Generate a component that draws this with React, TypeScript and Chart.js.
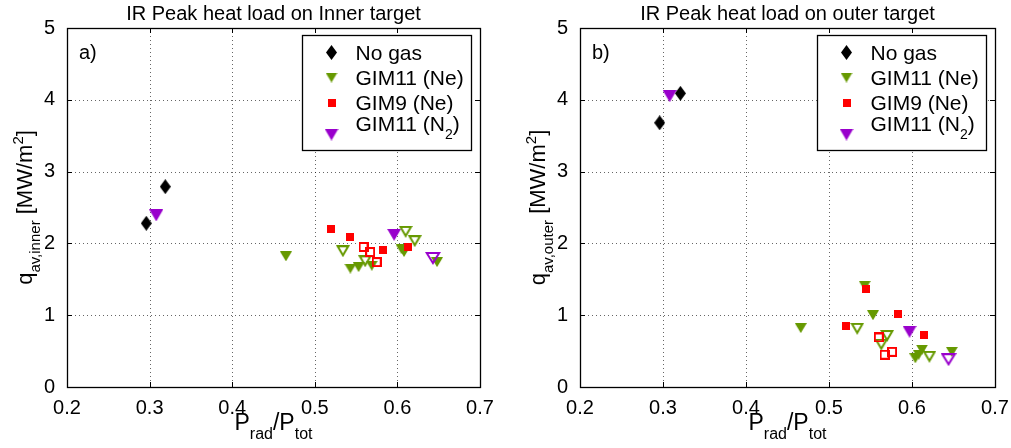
import React, { useEffect, useRef } from 'react';
import { Chart, registerables } from 'chart.js';

Chart.register(...registerables);

const FONT = '"Liberation Sans", Arial, Helvetica, sans-serif';

// Tick values
const xTicks = [0.2, 0.3, 0.4, 0.5, 0.6, 0.7];
const yTicks = [0, 1, 2, 3, 4, 5];

// Series labels
const seriesNames = ['No gas', 'GIM11 (Ne)', 'GIM9 (Ne)', 'GIM11 (N2)'];

// ---- Panel a) inner target ----
const innerNoGasX = [0.296, 0.319];
const innerNoGasY = [2.28, 2.79];
const innerGim11NeFilledX = [0.465, 0.543, 0.553, 0.569, 0.605, 0.608, 0.648];
const innerGim11NeFilledY = [1.82, 1.65, 1.67, 1.69, 1.92, 1.88, 1.74];
const innerGim11NeOpenX = [0.534, 0.561, 0.61, 0.621];
const innerGim11NeOpenY = [1.89, 1.75, 2.16, 2.03];
const innerGim9NeFilledX = [0.52, 0.543, 0.582, 0.613];
const innerGim9NeFilledY = [2.2, 2.09, 1.91, 1.95];
const innerGim9NeOpenX = [0.559, 0.567, 0.575];
const innerGim9NeOpenY = [1.95, 1.88, 1.74];
const innerGim11N2FilledX = [0.308, 0.596];
const innerGim11N2FilledY = [2.39, 2.12];
const innerGim11N2OpenX = [0.643];
const innerGim11N2OpenY = [1.79];

// ---- Panel b) outer target ----
const outerNoGasX = [0.296, 0.321];
const outerNoGasY = [3.68, 4.09];
const outerGim11NeFilledX = [0.466, 0.543, 0.553, 0.604, 0.608, 0.612, 0.648];
const outerGim11NeFilledY = [0.82, 1.41, 1.0, 0.4, 0.45, 0.52, 0.49];
const outerGim11NeOpenX = [0.534, 0.57, 0.563, 0.621];
const outerGim11NeOpenY = [0.81, 0.71, 0.59, 0.42];
const outerGim9NeFilledX = [0.52, 0.544, 0.583, 0.614];
const outerGim9NeFilledY = [0.85, 1.37, 1.02, 0.73];
const outerGim9NeOpenX = [0.56, 0.576, 0.567];
const outerGim9NeOpenY = [0.69, 0.49, 0.45];
const outerGim11N2FilledX = [0.308, 0.597];
const outerGim11N2FilledY = [4.05, 0.77];
const outerGim11N2OpenX = [0.644];
const outerGim11N2OpenY = [0.38];

const BLACK = '#000000';
const GREEN = '#669900';
const RED = '#ff0000';
const PURPLE = '#9900cc';

type Seg = { t: string; k?: 'sub' | 'sup' };

function drawRich(
  ctx: CanvasRenderingContext2D,
  segs: Seg[],
  x: number,
  y: number,
  size: number,
  rot = 0,
  align: 'center' | 'left' = 'center'
) {
  ctx.save();
  ctx.translate(x, y);
  ctx.rotate(rot);
  const small = Math.round(size * 0.68);
  const fontOf = (k?: string) => `${k ? small : size}px ${FONT}`;
  let total = 0;
  const ws = segs.map((s) => {
    ctx.font = fontOf(s.k);
    const w = ctx.measureText(s.t).width;
    total += w;
    return w;
  });
  let cx = align === 'center' ? -total / 2 : 0;
  ctx.textBaseline = 'alphabetic';
  ctx.textAlign = 'left';
  ctx.fillStyle = '#000';
  segs.forEach((s, i) => {
    ctx.font = fontOf(s.k);
    const dy = s.k === 'sub' ? size * 0.38 : s.k === 'sup' ? -size * 0.42 : 0;
    ctx.fillText(s.t, cx, size * 0.36 + dy);
    cx += ws[i];
  });
  ctx.restore();
}

function mk(w: number, h: number, draw: (c: CanvasRenderingContext2D) => void) {
  const c = document.createElement('canvas');
  c.width = w;
  c.height = h;
  const x = c.getContext('2d')!;
  draw(x);
  return c;
}

function makeMarkers() {
  const diamond = mk(11, 15, (c) => {
    c.fillStyle = BLACK;
    c.beginPath();
    c.moveTo(5.5, 0);
    c.lineTo(11, 7.5);
    c.lineTo(5.5, 15);
    c.lineTo(0, 7.5);
    c.closePath();
    c.fill();
  });
  const triFill = (col: string, w: number, h: number) =>
    mk(w, h, (c) => {
      c.fillStyle = col;
      c.beginPath();
      c.moveTo(0, 0);
      c.lineTo(w, 0);
      c.lineTo(w / 2, h);
      c.closePath();
      c.fill();
    });
  const triOpen = (col: string, w: number, h: number, lw: number) =>
    mk(w, h, (c) => {
      c.strokeStyle = col;
      c.lineWidth = lw;
      c.lineJoin = 'miter';
      c.beginPath();
      c.moveTo(lw * 0.87, lw * 0.5);
      c.lineTo(w - lw * 0.87, lw * 0.5);
      c.lineTo(w / 2, h - lw);
      c.closePath();
      c.stroke();
    });
  const sqFill = (col: string, s: number) =>
    mk(s, s, (c) => {
      c.fillStyle = col;
      c.fillRect(0, 0, s, s);
    });
  const sqOpen = (col: string, s: number, lw: number) =>
    mk(s, s, (c) => {
      c.strokeStyle = col;
      c.lineWidth = lw;
      c.strokeRect(lw / 2, lw / 2, s - lw, s - lw);
    });
  return {
    noGas: diamond,
    gim11NeFilled: triFill(GREEN, 12, 10),
    gim11NeOpen: triOpen(GREEN, 14, 12, 2),
    gim9NeFilled: sqFill(RED, 8),
    gim9NeOpen: sqOpen(RED, 10, 2),
    gim11N2Filled: triFill(PURPLE, 14, 12),
    gim11N2Open: triOpen(PURPLE, 16, 13, 2),
  };
}

type PanelData = {
  noGas: [number[], number[]];
  gim11NeFilled: [number[], number[]];
  gim11NeOpen: [number[], number[]];
  gim9NeFilled: [number[], number[]];
  gim9NeOpen: [number[], number[]];
  gim11N2Filled: [number[], number[]];
  gim11N2Open: [number[], number[]];
};

const innerData: PanelData = {
  noGas: [innerNoGasX, innerNoGasY],
  gim11NeFilled: [innerGim11NeFilledX, innerGim11NeFilledY],
  gim11NeOpen: [innerGim11NeOpenX, innerGim11NeOpenY],
  gim9NeFilled: [innerGim9NeFilledX, innerGim9NeFilledY],
  gim9NeOpen: [innerGim9NeOpenX, innerGim9NeOpenY],
  gim11N2Filled: [innerGim11N2FilledX, innerGim11N2FilledY],
  gim11N2Open: [innerGim11N2OpenX, innerGim11N2OpenY],
};

const outerData: PanelData = {
  noGas: [outerNoGasX, outerNoGasY],
  gim11NeFilled: [outerGim11NeFilledX, outerGim11NeFilledY],
  gim11NeOpen: [outerGim11NeOpenX, outerGim11NeOpenY],
  gim9NeFilled: [outerGim9NeFilledX, outerGim9NeFilledY],
  gim9NeOpen: [outerGim9NeOpenX, outerGim9NeOpenY],
  gim11N2Filled: [outerGim11N2FilledX, outerGim11N2FilledY],
  gim11N2Open: [outerGim11N2OpenX, outerGim11N2OpenY],
};

type PanelProps = {
  data: PanelData;
  title: string;
  yLabelSub: string;
  panelTag: string;
  left: number;
  width: number;
  areaLeft: number;
  areaRight: number;
};

function Panel(props: PanelProps) {
  const ref = useRef<HTMLCanvasElement | null>(null);
  useEffect(() => {
    const canvas = ref.current!;
    const m = makeMarkers();
    const order: (keyof PanelData)[] = [
      'noGas',
      'gim11N2Filled',
      'gim11N2Open',
      'gim9NeFilled',
      'gim9NeOpen',
      'gim11NeFilled',
      'gim11NeOpen',
    ];
    const datasets = order.map((k) => {
      const [xs, ys] = props.data[k];
      return {
        label: k,
        data: xs.map((v, i) => ({ x: v, y: ys[i] })),
        pointStyle: (m as any)[k],
        pointRadius: 6,
        showLine: false,
      };
    });

    const framePlugin = {
      id: 'frame',
      beforeDatasetsDraw(chart: any) {
        const ctx: CanvasRenderingContext2D = chart.ctx;
        const ca = chart.chartArea;
        const sx = chart.scales.x;
        const sy = chart.scales.y;
        ctx.save();
        // grid
        ctx.strokeStyle = 'rgba(0,0,0,0.6)';
        ctx.lineWidth = 1;
        ctx.setLineDash([1, 3]);
        xTicks.slice(1, -1).forEach((v) => {
          const px = Math.round(sx.getPixelForValue(v)) + 0.5;
          ctx.beginPath();
          ctx.moveTo(px, ca.top);
          ctx.lineTo(px, ca.bottom);
          ctx.stroke();
        });
        yTicks.slice(1, -1).forEach((v) => {
          const py = Math.round(sy.getPixelForValue(v)) + 0.5;
          ctx.beginPath();
          ctx.moveTo(ca.left, py);
          ctx.lineTo(ca.right, py);
          ctx.stroke();
        });
        ctx.setLineDash([]);
        // ticks (inward)
        ctx.strokeStyle = '#000';
        const tl = 5;
        xTicks.forEach((v) => {
          const px = Math.round(sx.getPixelForValue(v)) + 0.5;
          ctx.beginPath();
          ctx.moveTo(px, ca.bottom);
          ctx.lineTo(px, ca.bottom - tl);
          ctx.moveTo(px, ca.top);
          ctx.lineTo(px, ca.top + tl);
          ctx.stroke();
        });
        yTicks.forEach((v) => {
          const py = Math.round(sy.getPixelForValue(v)) + 0.5;
          ctx.beginPath();
          ctx.moveTo(ca.left, py);
          ctx.lineTo(ca.left + tl, py);
          ctx.moveTo(ca.right, py);
          ctx.lineTo(ca.right - tl, py);
          ctx.stroke();
        });
        // frame
        ctx.lineWidth = 1.3;
        ctx.strokeRect(
          Math.round(ca.left) + 0.5,
          Math.round(ca.top) + 0.5,
          Math.round(ca.right) - Math.round(ca.left),
          Math.round(ca.bottom) - Math.round(ca.top)
        );
        ctx.restore();
      },
      afterDraw(chart: any) {
        const ctx: CanvasRenderingContext2D = chart.ctx;
        const ca = chart.chartArea;
        const cx = (ca.left + ca.right) / 2;
        const cy = (ca.top + ca.bottom) / 2;
        // title
        drawRich(ctx, [{ t: props.title }], cx, 13, 20);
        // x label
        drawRich(
          ctx,
          [{ t: 'P' }, { t: 'rad', k: 'sub' }, { t: '/P' }, { t: 'tot', k: 'sub' }],
          cx,
          422,
          23
        );
        // y label
        drawRich(
          ctx,
          [
            { t: 'q' },
            { t: props.yLabelSub, k: 'sub' },
            { t: ' [MW/m' },
            { t: '2', k: 'sup' },
            { t: ']' },
          ],
          ca.left - 43,
          cy,
          22,
          -Math.PI / 2
        );
        // panel tag
        drawRich(ctx, [{ t: props.panelTag }], ca.left + 12, ca.top + 24, 20, 0, 'left');
        // legend
        const lw = 169;
        const lh = 115;
        const lx = Math.round(ca.right - 9 - lw) + 0.5;
        const ly = Math.round(ca.top + 7) + 0.5;
        ctx.save();
        ctx.fillStyle = '#fff';
        ctx.fillRect(lx, ly, lw, lh);
        ctx.strokeStyle = '#000';
        ctx.lineWidth = 1.3;
        ctx.strokeRect(lx, ly, lw, lh);
        const mx = lx + 29;
        const tx = lx + 53;
        const drawImg = (img: HTMLCanvasElement, x: number, y: number) =>
          ctx.drawImage(img, x - img.width / 2, y - img.height / 2);
        drawImg(m.noGas, mx, ly + 17);
        drawRich(ctx, [{ t: seriesNames[0] }], tx, ly + 17, 21, 0, 'left');
        drawImg(m.gim11NeFilled, mx, ly + 42);
        drawRich(ctx, [{ t: seriesNames[1] }], tx, ly + 42, 21, 0, 'left');
        drawImg(m.gim9NeFilled, mx, ly + 67);
        drawRich(ctx, [{ t: seriesNames[2] }], tx, ly + 67, 21, 0, 'left');
        drawImg(m.gim11N2Filled, mx, ly + 99);
        drawRich(
          ctx,
          [{ t: 'GIM11 (N' }, { t: '2', k: 'sub' }, { t: ')' }],
          tx,
          ly + 88,
          21,
          0,
          'left'
        );
        ctx.restore();
      },
    };

    const chart = new Chart(canvas, {
      type: 'scatter',
      data: { datasets: datasets as any },
      options: {
        responsive: false,
        animation: false,
        events: [],
        layout: {
          padding: { left: 0, top: 28, right: props.width - props.areaRight, bottom: 0 },
        },
        plugins: {
          legend: { display: false },
          tooltip: { enabled: false },
          title: { display: false },
        },
        scales: {
          x: {
            type: 'linear',
            min: 0.2,
            max: 0.7,
            afterBuildTicks: (s: any) => {
              s.ticks = xTicks.map((v) => ({ value: v }));
            },
            afterFit: (s: any) => {
              s.height = 61;
            },
            ticks: {
              font: { family: FONT, size: 20 },
              color: '#000',
              padding: 1,
              maxRotation: 0,
              autoSkip: false,
              callback: (v: any) => Number(v).toFixed(1),
            },
            grid: { display: false },
            border: { display: false },
          },
          y: {
            type: 'linear',
            min: 0,
            max: 5,
            afterBuildTicks: (s: any) => {
              s.ticks = yTicks.map((v) => ({ value: v }));
            },
            afterFit: (s: any) => {
              s.width = props.areaLeft;
            },
            ticks: {
              font: { family: FONT, size: 20 },
              color: '#000',
              padding: 4,
              autoSkip: false,
              callback: (v: any) => String(Number(v)),
            },
            grid: { display: false },
            border: { display: false },
          },
        },
      } as any,
      plugins: [framePlugin],
    });
    return () => chart.destroy();
  }, []);
  return (
    <canvas
      ref={ref}
      width={props.width}
      height={448}
      style={{ position: 'absolute', left: props.left, top: 0, width: props.width, height: 448 }}
    />
  );
}

export default function App() {
  return (
    <div
      style={{
        position: 'fixed',
        left: 0,
        top: 0,
        width: 1011,
        height: 448,
        background: '#fff',
        overflow: 'hidden',
      }}
    >
      <Panel
        data={innerData}
        title="IR Peak heat load on Inner target"
        yLabelSub="av,inner"
        panelTag="a)"
        left={0}
        width={505}
        areaLeft={67}
        areaRight={480}
      />
      <Panel
        data={outerData}
        title="IR Peak heat load on outer target"
        yLabelSub="av,outer"
        panelTag="b)"
        left={505}
        width={506}
        areaLeft={75}
        areaRight={490}
      />
    </div>
  );
}
